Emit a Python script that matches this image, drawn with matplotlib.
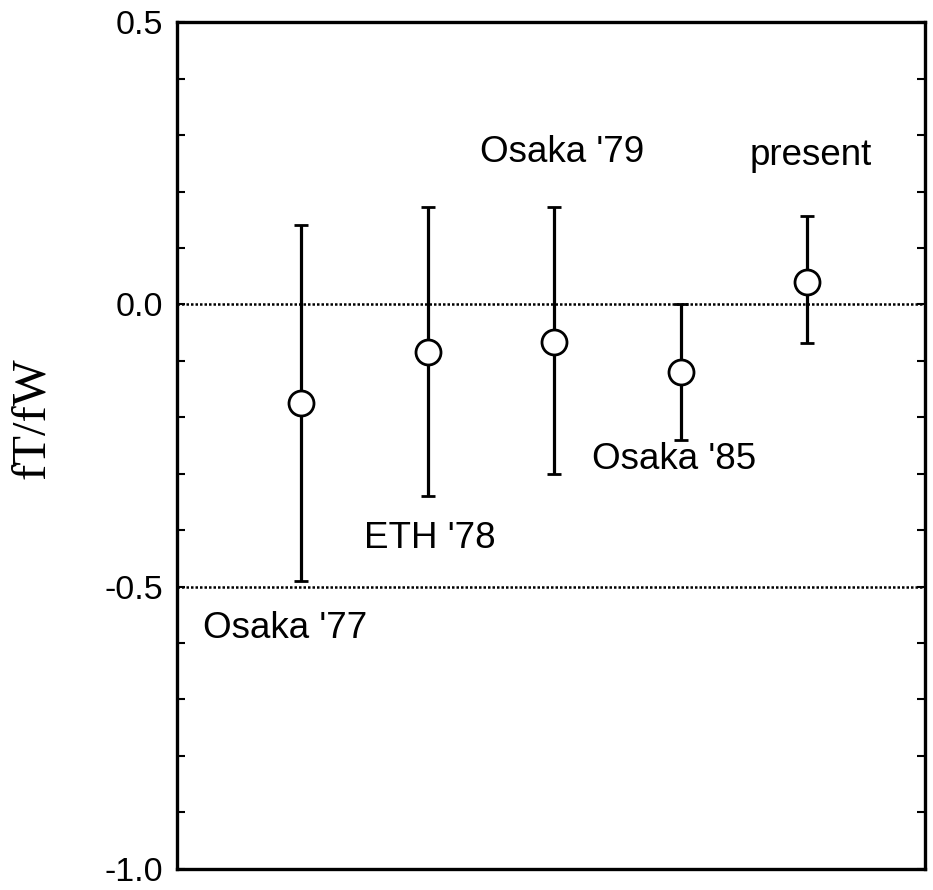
import matplotlib
matplotlib.use("Agg")
import matplotlib.pyplot as plt

# Measurements: central value with upper / lower error bounds
labels = ["Osaka '77", "ETH '78", "Osaka '79", "Osaka '85", "present"]
positions = [1, 2, 3, 4, 5]
values = [-0.175, -0.085, -0.067, -0.12, 0.04]
err_upper = [0.315, 0.257, 0.239, 0.12, 0.116]
err_lower = [0.315, 0.254, 0.234, 0.121, 0.109]

# Label anchor points (data coordinates)
label_x = [0.87, 2.02, 3.06, 3.95, 5.03]
label_y = [-0.575, -0.415, 0.27, -0.275, 0.264]

# Reference levels drawn as dotted lines
ref_levels = [0.0, -0.5]

yticks = [0.5, 0.0, -0.5, -1.0]
ytick_labels = ["0.5", "0.0", "-0.5", "-1.0"]

sans = "Liberation Sans"
serif = "Liberation Serif"

fig = plt.figure(figsize=(9.33, 8.9), dpi=100)
ax = fig.add_axes([0.19, 0.024, 0.801, 0.951])

for lvl in ref_levels:
    ax.axhline(lvl, color="black", lw=1.8, ls=(0, (1, 0.8)), zorder=1)

ax.errorbar(positions, values, yerr=[err_lower, err_upper], fmt="o",
            color="black", ecolor="black", elinewidth=2.3, capsize=5,
            capthick=2.3, markersize=18, markerfacecolor="white",
            markeredgecolor="black", markeredgewidth=2.0, zorder=3)

for txt, x, y in zip(labels, label_x, label_y):
    ax.text(x, y, txt, ha="center", va="center", fontsize=26.5,
            family=sans, color="black")

ax.set_xlim(0.02, 5.93)
ax.set_ylim(-1.0, 0.5)
ax.set_xticks([])
ax.set_yticks(yticks)
ax.set_yticklabels(ytick_labels, family=sans, fontsize=24.5)
ax.set_yticks([v / 10 for v in range(-10, 6)], minor=True)
ax.tick_params(axis="y", which="both", direction="in", left=True, right=True,
               length=6, width=1.5, pad=10)

for sp in ax.spines.values():
    sp.set_linewidth(2.4)

fig.text(0.034, 0.53, "fT/fW", rotation=90, ha="center", va="center",
         family=serif, fontsize=35)

fig.savefig("out.png", dpi=100)
